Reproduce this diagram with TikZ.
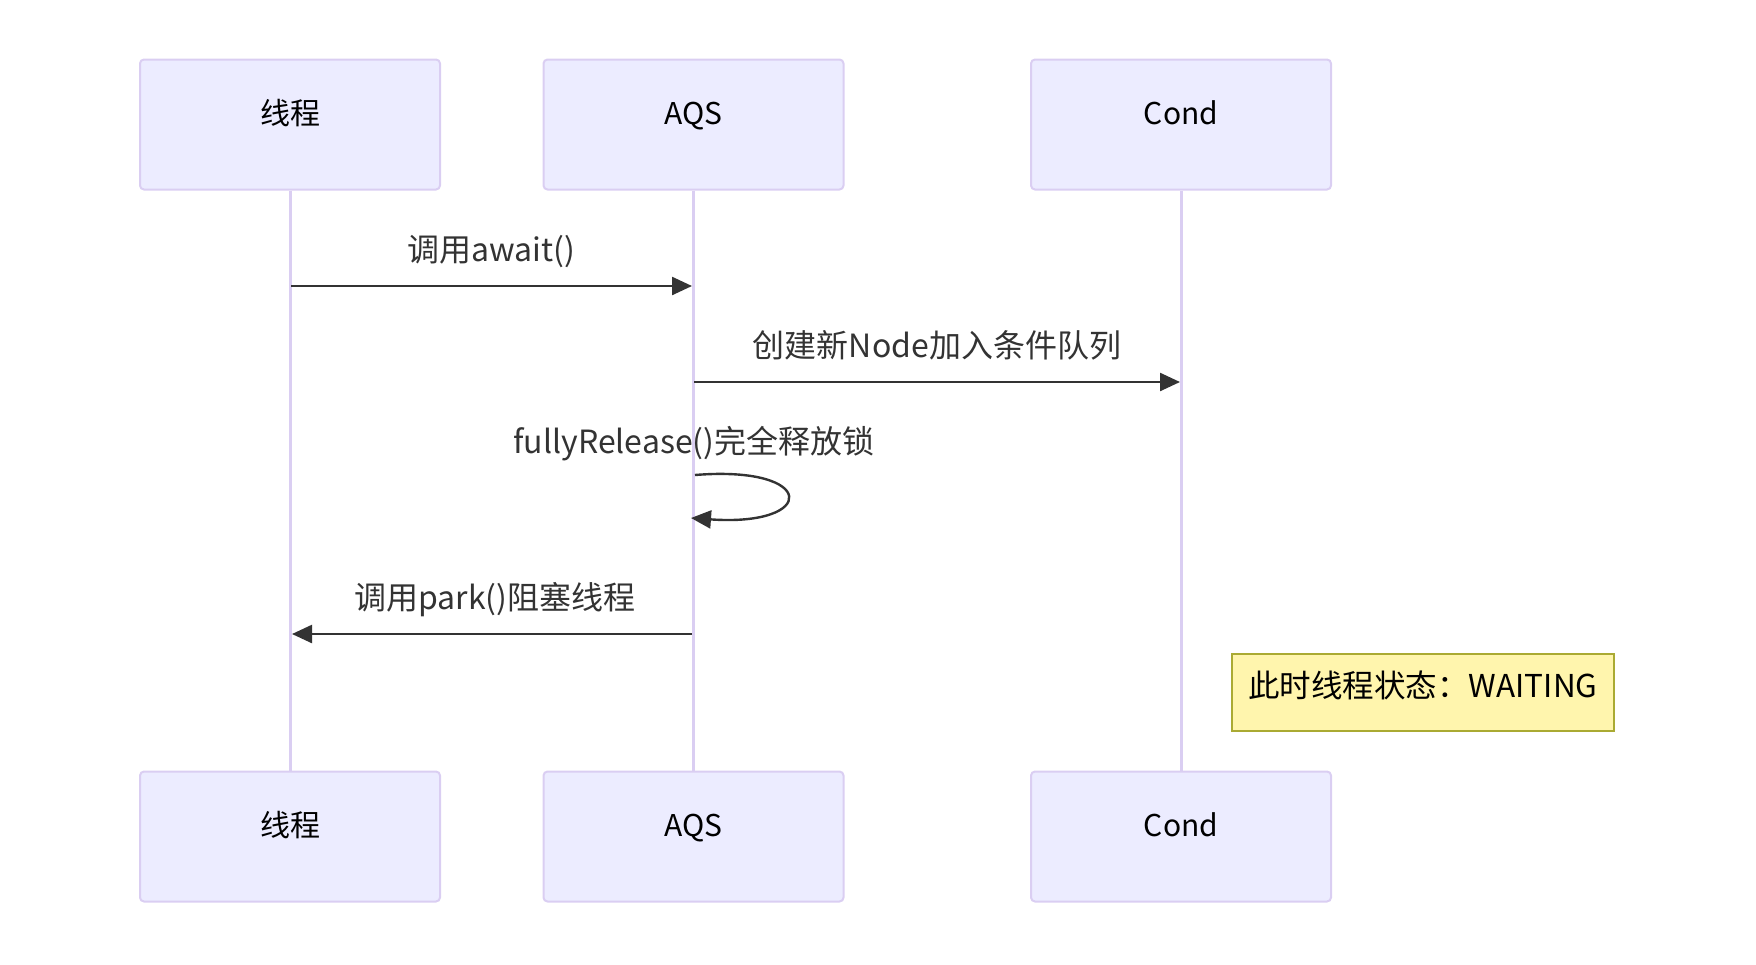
\documentclass[tikz,border=0pt]{standalone}
\usepackage{fontspec}
\setmainfont{Noto Sans CJK SC}
\usetikzlibrary{arrows.meta}
\definecolor{actfill}{HTML}{ECECFF}
\definecolor{actline}{HTML}{DACEF2}
\definecolor{notefill}{HTML}{FFF5AD}
\definecolor{noteline}{HTML}{AAAA33}
\definecolor{msgcol}{HTML}{333333}
\begin{document}
\begin{tikzpicture}[x=1pt,y=-1pt,
  actor/.style={draw=actline,fill=actfill,line width=2pt,rounded corners=4pt,
    minimum width=300pt,minimum height=130pt,inner sep=0pt},
  actortext/.style={anchor=base,inner sep=0pt,font=\fontsize{30}{36}\selectfont,text=black},
  lifeline/.style={draw=actline,line width=3pt},
  msg/.style={draw=msgcol,line width=2.4pt,-{Triangle[length=20pt,width=18pt]}},
  msglabel/.style={anchor=base,font=\fontsize{32}{38}\selectfont,text=msgcol,inner sep=0pt},
  notebox/.style={draw=noteline,fill=notefill,line width=2pt,
    minimum width=382pt,minimum height=77pt,inner sep=0pt},
  notetext/.style={anchor=base,inner sep=0pt,font=\fontsize{31.5}{38}\selectfont,text=black}]
\useasboundingbox (0,0) rectangle (1756,964);
% actors
\node[actor] (t1) at (290,124.5) {};
\node[actor] (a1) at (693.5,124.5) {};
\node[actor] (c1) at (1181,124.5) {};
\node[actor] (t2) at (290,836.5) {};
\node[actor] (a2) at (693.5,836.5) {};
\node[actor] (c2) at (1181,836.5) {};
\node[actortext] (t1l) at (290,124.5) {线程};
\node[actortext] (a1l) at (693.5,124.5) {AQS};
\node[actortext] (c1l) at (1181,124.5) {Cond};
\node[actortext] (t2l) at (290,836.5) {线程};
\node[actortext] (a2l) at (693.5,836.5) {AQS};
\node[actortext] (c2l) at (1181,836.5) {Cond};
% lifelines
\draw[lifeline] (t1.south) -- (t2.north);
\draw[lifeline] (a1.south) -- (a2.north);
\draw[lifeline] (c1.south) -- (c2.north);
% message anchor points
\coordinate (m1s) at (291,286);
\coordinate (m1e) at (692,286);
\coordinate (m2s) at (694,382);
\coordinate (m2e) at (1180,382);
\coordinate (m3s) at (695,475);
\coordinate (m3e) at (691,518);
\coordinate (m4s) at (692,634);
\coordinate (m4e) at (292,634);
% messages
\draw[msg] (m1s) -- (m1e);
\node[msglabel] (l1) at (491,261) {调用await()};
\draw[msg] (m2s) -- (m2e);
\node[msglabel] (l2) at (937,357) {创建新Node加入条件队列};
\draw[msg] (m3s) .. controls (818,465) and (818,527) .. (m3e);
\node[msglabel] (l3) at (694,453) {fullyRelease()完全释放锁};
\draw[msg] (m4s) -- (m4e);
\node[msglabel] (l4) at (495,609) {调用park()阻塞线程};
% note
\node[notebox] (n1) at (1423,692.5) {};
\node[notetext] (n1l) at (1423,697) {此时线程状态：WAITING};
\end{tikzpicture}
\end{document}
